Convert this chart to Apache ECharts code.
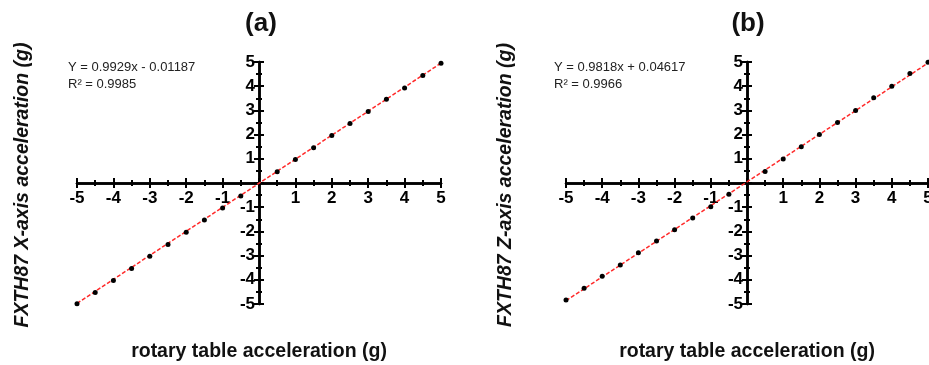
<!DOCTYPE html>
<html>
<head>
<meta charset="utf-8">
<script src="https://cdn.jsdelivr.net/npm/echarts@6/dist/echarts.min.js"></script>
<style>
  html, body { margin: 0; padding: 0; background: #fff; }
  #main { width: 929px; height: 365px; }
</style>
</head>
<body>
<div id="main"></div>
<script>
// rotary table input (g)
var tableAccel = [-5, -4.5, -4, -3.5, -3, -2.5, -2, -1.5, -1, -0.5, 0.5, 1, 1.5, 2, 2.5, 3, 3.5, 4, 4.5, 5];
// sensor readings (g)
var xAxisAccel = [-4.99, -4.52, -4.03, -3.53, -3.03, -2.54, -2.04, -1.53, -1.03, -0.54, 0.47, 0.97, 1.46, 1.96, 2.46, 2.95, 3.46, 3.93, 4.44, 4.95];
var zAxisAccel = [-4.83, -4.35, -3.85, -3.39, -2.88, -2.40, -1.93, -1.45, -0.98, -0.46, 0.48, 0.99, 1.50, 2.00, 2.50, 3.00, 3.52, 4.00, 4.52, 4.99];
// regression line end points
var fitX = [[-5, -4.976], [5, 4.953]];
var fitZ = [[-5, -4.863], [5, 4.955]];
var panelTitles = ['(a)', '(b)'];
var yNames = ['FXTH87 X-axis acceleration (g)', 'FXTH87 Z-axis acceleration (g)'];
var xName = 'rotary table acceleration (g)';
var equations = ['Y = 0.9929x - 0.01187', 'Y = 0.9818x + 0.04617'];
var rSquared = ['R\u00b2 = 0.9985', 'R\u00b2 = 0.9966'];

var FONT = '"Liberation Sans", Arial, sans-serif';

var chartDom = document.getElementById('main');
var myChart = echarts.init(chartDom);

// both grids 242px tall, 364/362px wide -> axes cross in the middle
var grids = [
  { left: 77, right: 488, top: 62, bottom: 61, outerBoundsMode: 'none' },
  { left: 566, right: 1, top: 62, bottom: 61, outerBoundsMode: 'none' }
];
var halfH = 121;
var halfW = [182, 181];

function pairs(xs, ys) {
  return xs.map(function (x, i) { return [x, ys[i]]; });
}

function labelFmt(v) {
  return v === 0 ? '' : String(v);
}

function mkAxis(grid, pos, labels, shift, margin) {
  return {
    type: 'value', gridIndex: grid, position: pos, offset: -shift,
    min: -5, max: 5, interval: 1,
    splitLine: { show: false },
    axisLine: { show: true, onZero: false, lineStyle: { color: '#000', width: 2.5 } },
    axisTick: { show: true, length: 5, lineStyle: { color: '#000', width: 2 } },
    minorTick: { show: true, splitNumber: 2, length: 3, lineStyle: { color: '#000', width: 2 } },
    axisLabel: {
      show: labels, formatter: labelFmt, margin: margin,
      color: '#000', fontSize: 17, fontWeight: 'bold', fontFamily: FONT
    }
  };
}

function fitSeries(idx, data) {
  return {
    type: 'line', xAxisIndex: idx * 2, yAxisIndex: idx * 2,
    data: data, symbol: 'none', silent: true,
    lineStyle: { color: '#ff2a2a', width: 1.5, type: [4, 2] },
    z: 2
  };
}

function dotSeries(idx, data) {
  return {
    type: 'scatter', xAxisIndex: idx * 2, yAxisIndex: idx * 2,
    data: data, symbolSize: 5,
    itemStyle: { color: '#000', opacity: 1 },
    z: 3
  };
}

var centersX = [259, 747];
var graphics = [];
[0, 1].forEach(function (i) {
  var eqLeft = i === 0 ? 68 : 554;
  graphics.push({
    type: 'text', left: eqLeft, top: 61,
    style: { text: equations[i], fontSize: 13, fontFamily: FONT, fill: '#222' }
  });
  graphics.push({
    type: 'text', left: eqLeft, top: 78,
    style: { text: rSquared[i], fontSize: 13, fontFamily: FONT, fill: '#222' }
  });
  graphics.push({
    type: 'text', x: centersX[i], y: 352,
    style: {
      text: xName, fontSize: 19.5, fontWeight: 'bold', fontFamily: FONT,
      fill: '#111', align: 'center', verticalAlign: 'middle'
    }
  });
  graphics.push({
    type: 'text', x: i === 0 ? 23 : 506, y: 185, rotation: Math.PI / 2,
    style: {
      text: yNames[i], fontSize: 19.5, fontWeight: 'bold', fontStyle: 'italic', fontFamily: FONT,
      fill: '#111', align: 'center', verticalAlign: 'middle'
    }
  });
});

var option = {
  backgroundColor: '#fff',
  animation: false,
  title: [
    { text: panelTitles[0], left: 256, top: 6, textAlign: 'center',
      textStyle: { fontSize: 26, fontWeight: 'bold', fontFamily: FONT, color: '#111' } },
    { text: panelTitles[1], left: 743, top: 6, textAlign: 'center',
      textStyle: { fontSize: 26, fontWeight: 'bold', fontFamily: FONT, color: '#111' } }
  ],
  grid: grids,
  xAxis: [
    mkAxis(0, 'bottom', true, halfH, 7), mkAxis(0, 'top', false, halfH, 7),
    mkAxis(1, 'bottom', true, halfH, 7), mkAxis(1, 'top', false, halfH, 7)
  ],
  yAxis: [
    mkAxis(0, 'left', true, halfW[0], 4), mkAxis(0, 'right', false, halfW[0], 4),
    mkAxis(1, 'left', true, halfW[1], 4), mkAxis(1, 'right', false, halfW[1], 4)
  ],
  series: [
    fitSeries(0, fitX),
    dotSeries(0, pairs(tableAccel, xAxisAccel)),
    fitSeries(1, fitZ),
    dotSeries(1, pairs(tableAccel, zAxisAccel))
  ],
  graphic: graphics
};

option && myChart.setOption(option);
</script>
</body>
</html>
